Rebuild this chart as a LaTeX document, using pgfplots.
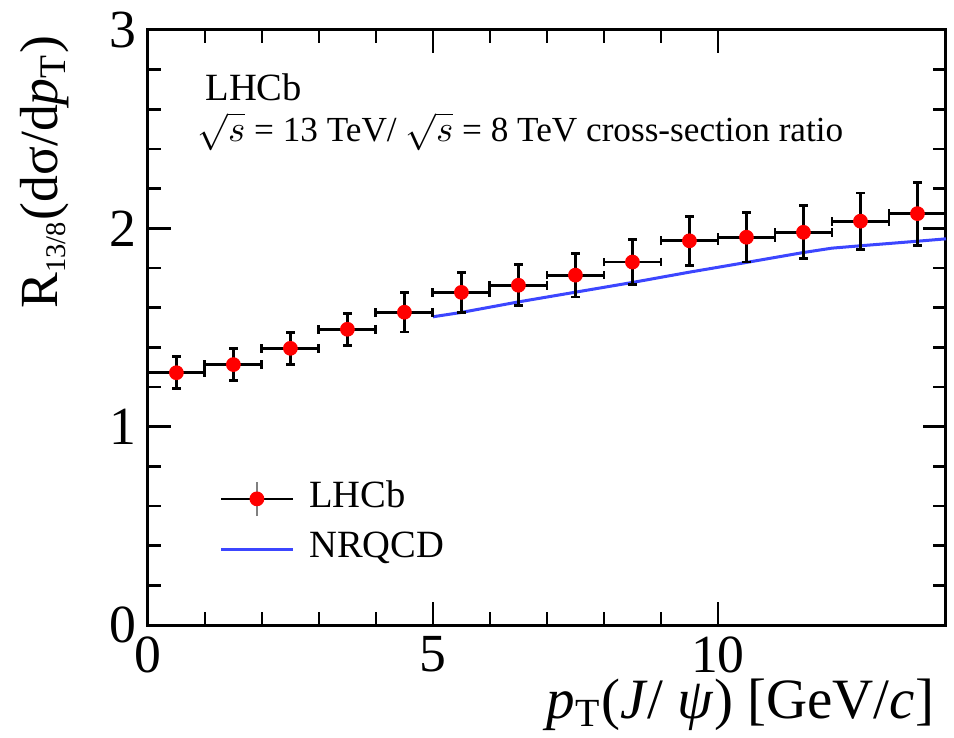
\documentclass[border=0pt]{standalone}
\usepackage{fontspec}
\setmainfont{Liberation Serif}
\usepackage{pgfplots}
\pgfplotsset{compat=1.18}
\definecolor{nrqcdblue}{RGB}{60,70,255}

\pgfplotstableread{
x    y      ex   ey
0.5  1.272  0.5  0.080
1.5  1.313  0.5  0.080
2.5  1.395  0.5  0.080
3.5  1.491  0.5  0.080
4.5  1.577  0.5  0.100
5.5  1.677  0.5  0.100
6.5  1.713  0.5  0.103
7.5  1.764  0.5  0.110
8.5  1.830  0.5  0.114
9.5  1.937  0.5  0.123
10.5 1.955  0.5  0.125
11.5 1.980  0.5  0.134
12.5 2.036  0.5  0.142
13.5 2.074  0.5  0.159
}\lhcbdata

\begin{document}
\begin{tikzpicture}
  \begin{axis}[
    scale only axis,
    width=8.365cm, height=6.237cm,
    xmin=0, xmax=14, ymin=0, ymax=3,
    xtick={0,5,10}, ytick={0,1,2,3},
    minor x tick num=4, minor y tick num=4,
    xtick pos=both, ytick pos=both,
    tick align=inside,
    major tick length=0.24cm, minor tick length=0.14cm,
    tick style={black, line width=0.8pt},
    axis line style={line width=0.9pt},
    ticklabel style={font=\fontsize{16}{16}\selectfont},
    /pgf/number format/assume math mode=true,
    xlabel={\textit{p}\textsubscript{T}(\textit{J}/ \textit{ψ}) [GeV/\textit{c}]},
    xlabel style={font=\fontsize{17}{17}\selectfont,
                  at={(axis description cs:1,-0.07)}, anchor=north east},
    ylabel={R\textsubscript{\fontsize{8.5}{8.5}\selectfont 13/8}(dσ/d\textit{p}\textsubscript{T})},
    ylabel style={font=\fontsize{16}{16}\selectfont,
                  at={(axis description cs:-0.13,1.01)}, anchor=east},
    legend style={draw=none, fill=none, at={(axis cs:1.07,0.80)},
                  anchor=north west, font=\fontsize{11.5}{11.5}\selectfont,
                  row sep=0pt,
                  nodes={inner sep=2.5pt, text height=0.75em, text depth=0.25em}},
    legend cell align=left,
    clip=false,
  ]
    \addlegendimage{legend image code/.code={
        \draw[black, line width=0.8pt] (0cm,0cm) -- (0.75cm,0cm);
        \draw[gray, line width=0.8pt] (0.375cm,-0.18cm) -- (0.375cm,0.18cm);
        \fill[red] (0.375cm,0cm) circle (2pt);
      }}
    \addlegendentry{\hspace{2pt}LHCb}
    \addlegendimage{legend image code/.code={
        \draw[nrqcdblue, line width=0.9pt] (0cm,0cm) -- (0.75cm,0cm);
      }}
    \addlegendentry{\hspace{2pt}NRQCD}

    % NRQCD prediction
    \addplot[nrqcdblue, line width=0.9pt, forget plot] coordinates {
      (5,1.554)(5.5,1.576)(6.5,1.629)(7.5,1.678)(8.5,1.727)(9.5,1.779)
      (10.5,1.828)(11.5,1.878)(12,1.900)(12.5,1.912)(13.5,1.935)(14,1.947)
    };

    % LHCb data
    \addplot[only marks, mark=*, mark size=2pt, red,
             mark options={fill=red, draw=red}, forget plot,
             error bars/.cd,
               x dir=both, x explicit, y dir=both, y explicit,
               error bar style={black, line width=0.85pt},
               error mark=|,
               error mark options={black, line width=0.85pt, mark size=1.3pt}]
      table[x=x, y=y, x error=ex, y error=ey] {\lhcbdata};

    \node[anchor=base west, inner sep=0pt, font=\fontsize{11.5}{11.5}\selectfont]
      at (axis cs:1.0,2.645) {LHCb};
    \node[anchor=base west, inner sep=0pt, font=\fontsize{10.5}{10.5}\selectfont]
      at (axis cs:0.86,2.436)
      {$\sqrt{s}$ = 13 TeV/ $\sqrt{s}$ = 8 TeV cross-section ratio};
  \end{axis}
  \pgfresetboundingbox
  \path (-1.55cm,-1.184cm) rectangle (8.449cm,6.551cm);
\end{tikzpicture}
\end{document}
